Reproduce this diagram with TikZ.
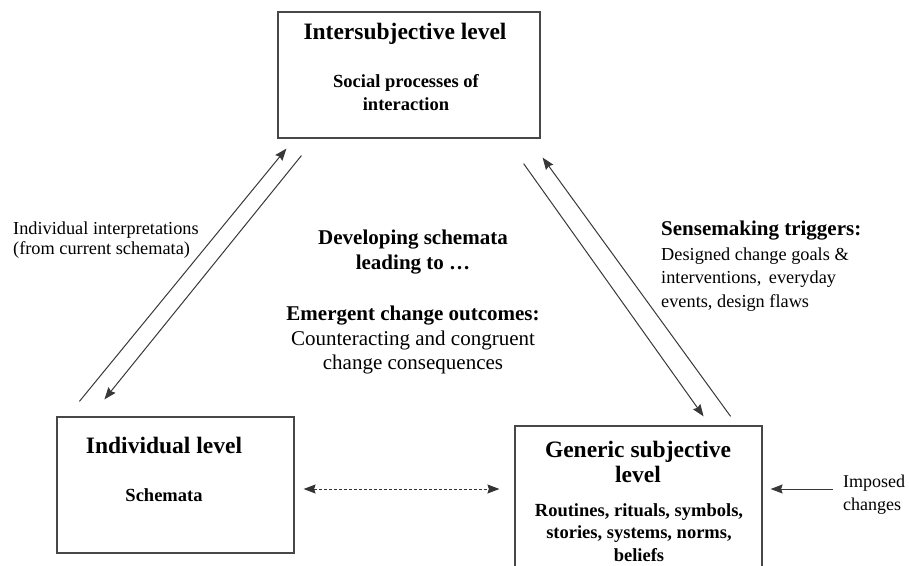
\documentclass[tikz,border=0pt]{standalone}
\usepackage{fontspec}
\setmainfont{Liberation Serif}
\usetikzlibrary{positioning,arrows.meta}

\begin{document}
\begin{tikzpicture}[
  x=1pt, y=-1pt,
  >={Stealth[length=12pt,width=9pt,inset=1.5pt]},
  levelbox/.style={draw=black!72, line width=1.2pt, inner sep=0pt},
  bigbold/.style={font=\fontsize{23.5}{25}\selectfont\bfseries, align=center, inner sep=0pt, anchor=north},
  smallbold/.style={font=\fontsize{18.5}{23}\selectfont\bfseries, align=center, inner sep=0pt, anchor=north},
  midtext/.style={font=\fontsize{21}{24.5}\selectfont, align=center, inner sep=0pt, anchor=north},
  sidetext/.style={font=\fontsize{18.3}{23.5}\selectfont, align=left, inner sep=0pt, anchor=north west},
  levelflow/.style={->, draw=black!78, line width=1pt},
  linkdash/.style={<->, draw=black!80, line width=1pt, dash pattern=on 3pt off 2pt}
]
  \clip (0,0) rectangle (909,565);
  % the three levels
  \node[levelbox, minimum width=262pt, minimum height=126pt] (inter) at (409,75) {};
  \node[levelbox, minimum width=237pt, minimum height=136pt] (indiv) at (175.5,485) {};
  \node[levelbox, minimum width=247pt, minimum height=160pt] (generic) at (638.5,506) {};

  \node[bigbold] (intertitle) at (405,23) {Intersubjective level};
  \node[smallbold] (intersub) at (406,74) {Social processes of\\interaction};
  \node[bigbold] (indivtitle) at (164,437) {Individual level};
  \node[smallbold] (indivsub) at (164,488) {Schemata};
  \node[bigbold] (generictitle) at (638,441) {Generic subjective\\level};
  \node[smallbold, font=\fontsize{18.5}{22.5}\selectfont\bfseries] (genericsub) at (639,503) {Routines, rituals, symbols,\\stories, systems, norms,\\beliefs};

  % middle and side labels
  \node[midtext, font=\fontsize{21}{25}\selectfont\bfseries] (develop) at (413,230) {Developing schemata\\leading to …};
  \node[midtext] (emergent) at (413,306) {\textbf{Emergent change outcomes:}\\Counteracting and congruent\\change consequences};
  \node[sidetext, font=\fontsize{18.3}{19.5}\selectfont] (interp) at (13,222) {Individual interpretations\\(from current schemata)};
  \node[sidetext, font=\fontsize{21}{25}\selectfont\bfseries] (sensehead) at (661,220.5) {Sensemaking triggers:};
  \node[sidetext] (sensebody) at (661,247.5) {Designed change goals \&\\interventions,\, everyday\\events, design flaws};
  \node[sidetext, font=\fontsize{18}{23}\selectfont] (imposed) at (843,475) {Imposed\\changes};

  % connectors
  \draw[levelflow] ([xshift=23pt,yshift=15pt]indiv.north west) -- ([xshift=9pt,yshift=-10pt]inter.south west);
  \draw[levelflow] ([xshift=24pt,yshift=-17pt]inter.south west) -- ([xshift=48pt,yshift=17pt]indiv.north west);
  \draw[levelflow] ([xshift=-17pt,yshift=-25pt]inter.south east) -- ([xshift=-59pt,yshift=9pt]generic.north east);
  \draw[levelflow] ([xshift=-32pt,yshift=9pt]generic.north east) -- ([xshift=2pt,yshift=-19pt]inter.south east);
  \draw[linkdash] ([xshift=9pt,yshift=-4pt]indiv.east) -- ([xshift=-15pt,yshift=17pt]generic.west);
  \draw[levelflow] ([xshift=-10pt,yshift=-14pt]imposed.north west) -- ([xshift=8pt,yshift=17pt]generic.east);
\end{tikzpicture}
\end{document}
